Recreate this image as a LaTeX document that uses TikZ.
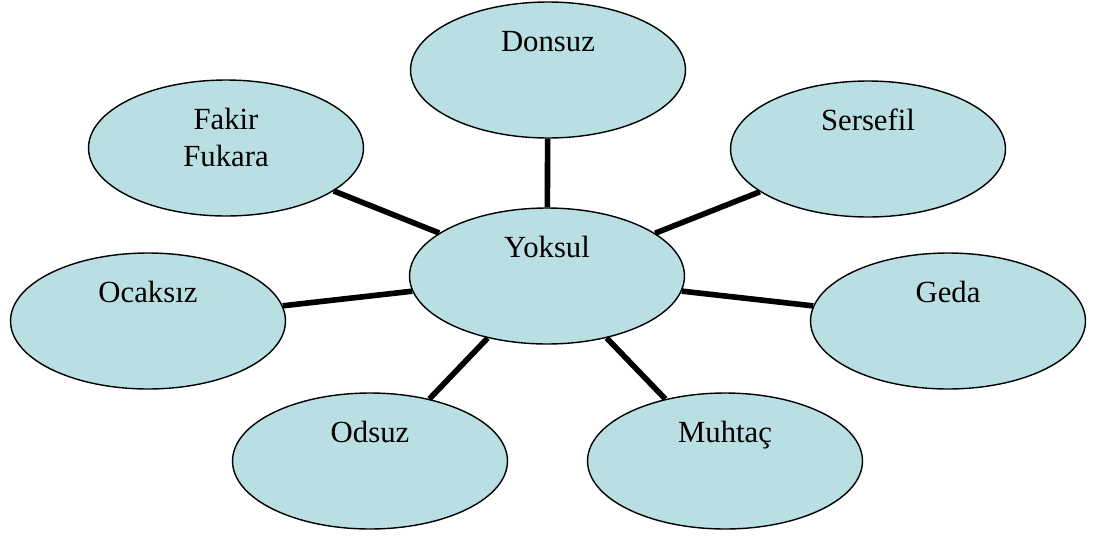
\documentclass[tikz,border=0pt]{standalone}
\usepackage{fontspec}
\setmainfont{Liberation Serif}
\usepackage{tikz}
\usetikzlibrary{shapes.geometric}
\definecolor{bubble}{HTML}{B9DFE3}
\tikzset{word/.style={anchor=north,inner sep=0pt,text height=1cm,align=center,font=\fontsize{17.5}{21}\selectfont},bubblenode/.style={ellipse,draw=black,line width=.8pt,fill=bubble,minimum width=5.5cm,minimum height=2.72cm,inner sep=0pt},spoke/.style={draw=black,line width=3.2pt}}
\begin{document}
\begin{tikzpicture}[x=.02cm,y=-.02cm]
\useasboundingbox (0,0) rectangle (1095,538);
\node[bubblenode,label={[word]north:Donsuz}] (donsuz) at (548,70) {};
\node[bubblenode,label={[word,text height=1.74cm]north:Fakir\\Fukara}] (fakir) at (226,148) {};
\node[bubblenode,label={[word]north:Sersefil}] (sersefil) at (868,149) {};
\node[bubblenode,label={[word]north:Yoksul}] (yoksul) at (547,276) {};
\node[bubblenode,label={[word]north:Ocaksız}] (ocaksiz) at (148,321) {};
\node[bubblenode,label={[word]north:Geda}] (geda) at (948,321) {};
\node[bubblenode,label={[word]north:Odsuz}] (odsuz) at (370,461) {};
\node[bubblenode,label={[word]north:Muhtaç}] (muhtac) at (725,461) {};
\foreach \n in {donsuz,fakir,sersefil,ocaksiz,geda,odsuz,muhtac}{\draw[spoke] (yoksul)--(\n);}
\end{tikzpicture}
\end{document}
